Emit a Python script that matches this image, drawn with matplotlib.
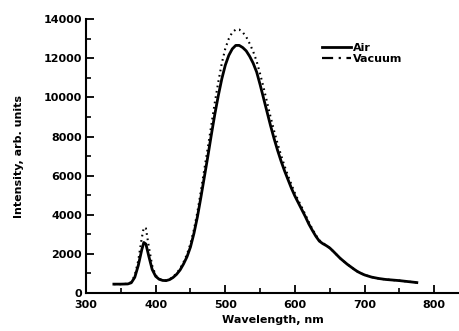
import numpy as np
import matplotlib.pyplot as plt
from matplotlib.lines import Line2D
from matplotlib.ticker import MultipleLocator

plt.rcParams['font.family'] = 'DejaVu Sans'
plt.rcParams['font.weight'] = 'bold'

# wavelength grid (nm)
wl = [340, 350, 360, 365, 370, 375, 380, 383, 386, 390, 395, 400, 405, 410, 415,
      420, 425, 430, 435, 440, 445, 450, 455, 460, 465, 470, 475, 480, 485, 490,
      495, 500, 505, 510, 515, 520, 525, 530, 535, 540, 545, 550, 555, 560, 565,
      570, 575, 580, 585, 590, 595, 600, 605, 610, 615, 620, 625, 630, 635, 640,
      645, 650, 655, 660, 665, 670, 675, 680, 685, 690, 695, 700, 710, 720, 730,
      740, 750, 760, 770, 775]

air = [450, 450, 460, 520, 800, 1400, 2200, 2580, 2500, 1900, 1200, 850, 700, 640, 630,
       680, 790, 950, 1170, 1480, 1850, 2350, 3050, 3900, 4900, 5950, 7000, 8100, 9150, 10100,
       10950, 11650, 12150, 12480, 12660, 12660, 12550, 12380, 12100, 11750, 11300, 10650, 9950, 9250, 8550,
       7900, 7300, 6750, 6250, 5800, 5350, 4950, 4600, 4250, 3900, 3520, 3200, 2900, 2650, 2520,
       2420, 2300, 2130, 1950, 1770, 1620, 1470, 1340, 1210, 1090, 1000, 920, 810, 740, 690,
       660, 630, 590, 550, 530]

vacuum = [450, 450, 470, 560, 900, 1650, 2800, 3350, 3300, 2400, 1400, 900, 720, 650, 640,
          700, 820, 1000, 1240, 1570, 1980, 2520, 3250, 4150, 5220, 6350, 7450, 8600, 9750, 10800,
          11750, 12500, 13000, 13330, 13470, 13470, 13330, 13100, 12750, 12350, 11850, 11200, 10500, 9750, 9000,
          8300, 7650, 7050, 6500, 6000, 5550, 5100, 4720, 4370, 4000, 3620, 3270, 2960, 2700, 2550,
          2440, 2300, 2130, 1950, 1770, 1620, 1470, 1340, 1210, 1090, 1000, 920, 810, 740, 690,
          660, 630, 590, 550, 530]

fig = plt.figure(figsize=(4.6, 3.31), dpi=100)
ax = fig.add_axes([0.187, 0.115, 0.813, 0.827])

ax.plot(wl, vacuum, color='black', linestyle=(0, (0.8, 1.8)), linewidth=1.5)
ax.plot(wl, air, color='black', linestyle='-', linewidth=2.0)

ax.set_xlim(300, 837)
ax.set_ylim(0, 14000)
ax.xaxis.set_minor_locator(MultipleLocator(50))
ax.yaxis.set_major_locator(MultipleLocator(2000))
ax.yaxis.set_minor_locator(MultipleLocator(1000))
ax.set_xticks([300, 400, 500, 600, 700, 800])

for s in ['top', 'right']:
    ax.spines[s].set_visible(False)
for s in ['left', 'bottom']:
    ax.spines[s].set_linewidth(1.5)

ax.tick_params(which='major', direction='in', length=6, width=1.3, labelsize=8, pad=3)
ax.tick_params(axis='x', which='major', pad=5)
ax.tick_params(which='minor', direction='in', length=3.5, width=1.2)
for lab in ax.get_xticklabels() + ax.get_yticklabels():
    lab.set_fontweight('bold')

ax.set_xlabel('Wavelength, nm', fontsize=8, fontweight='bold', labelpad=4)
ax.set_ylabel('Intensity, arb. units', fontsize=8, fontweight='bold', labelpad=14)

handles = [Line2D([], [], color='black', linewidth=2.0),
           Line2D([], [], color='black', linewidth=1.6, linestyle=(0, (5, 2.5, 1, 2.5)))]
ax.legend(handles, ['Air', 'Vacuum'], loc='upper left', bbox_to_anchor=(0.617, 0.935),
          frameon=False, fontsize=8, handlelength=2.6, handletextpad=0.15,
          labelspacing=0.15, borderpad=0)

fig.savefig('out.png', dpi=100)
